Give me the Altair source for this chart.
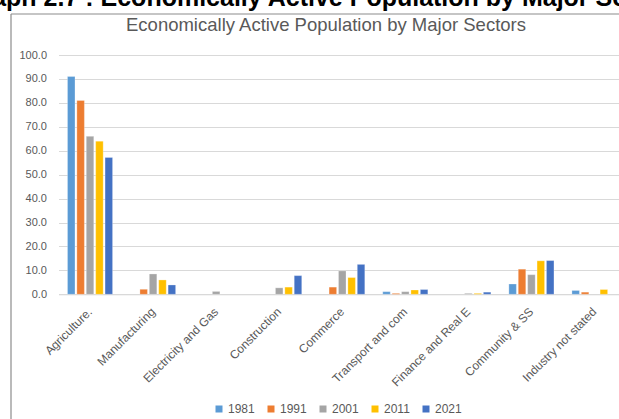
import altair as alt
import pandas as pd

# ---- data ----
sectors = ["Agriculture.", "Manufacturing", "Electricity and Gas", "Construction",
           "Commerce", "Transport and com", "Finance and Real E", "Community & SS",
           "Industry not stated"]
years = ["1981", "1991", "2001", "2011", "2021"]
v1981 = [91.0, None, None, None, None, 1.1, None, 4.3, 1.6]
v1991 = [81.0, 2.1, None, None, 3.0, 0.4, None, 10.5, 0.9]
v2001 = [66.0, 8.5, 1.2, 2.7, 9.8, 1.1, 0.4, 8.2, None]
v2011 = [64.0, 6.0, None, 3.0, 7.0, 1.8, 0.4, 14.0, 2.0]
v2021 = [57.2, 3.9, None, 7.8, 12.5, 2.0, 0.9, 14.1, None]
colors = ["#5B9BD5", "#ED7D31", "#A5A5A5", "#FFC000", "#4472C4"]
chart_title = "Economically Active Population by Major Sectors"
heading = "Graph 2.7 : Economically Active Population by Major Sectors"
y_ticks = [0, 10, 20, 30, 40, 50, 60, 70, 80, 90, 100]

rows = []
for yr, vals in zip(years, [v1981, v1991, v2001, v2011, v2021]):
    for s, v in zip(sectors, vals):
        if v is not None:
            rows.append({"sector": s, "year": yr, "value": v})
df = pd.DataFrame(rows)

# layout (pixels)
PL, PT = 58.5, 55
W, H = 560.5, 239.3
TXT = "#595959"
FONT = "Liberation Sans"

bars = alt.Chart(df).mark_bar(stroke="white", strokeOpacity=0.35, strokeWidth=0.8).encode(
    x=alt.X("sector:N", sort=sectors, title=None,
            scale=alt.Scale(range=[0, 567.5], paddingInner=0.255, paddingOuter=0.1275),
            axis=alt.Axis(labelAngle=-45, labelAlign="right", labelBaseline="middle",
                          labelPadding=15, ticks=False, domainColor="#d9d9d9",
                          labelColor=TXT, labelFontSize=12, labelFont=FONT,
                          labelOverlap=False, labelFlush=False)),
    xOffset=alt.XOffset("year:N", sort=years,
                        scale=alt.Scale(paddingInner=0.2, paddingOuter=0.1)),
    y=alt.Y("value:Q", title=None, scale=alt.Scale(domain=[0, 100], nice=False),
            axis=alt.Axis(values=y_ticks, format=".1f", domain=False, ticks=False,
                          gridColor="#d9d9d9", labelColor=TXT, labelFontSize=11,
                          labelFont=FONT, labelPadding=12)),
    color=alt.Color("year:N", sort=years, title=None,
                    scale=alt.Scale(domain=years, range=colors),
                    legend=alt.Legend(orient="none", direction="horizontal",
                                      legendX=213 - PL, legendY=403 - PT,
                                      symbolType="square", symbolSize=49,
                                      symbolStrokeWidth=0, labelOffset=3,
                                      columnPadding=10, labelFontSize=12,
                                      labelFont=FONT, labelColor=TXT)),
)

title_layer = alt.Chart(pd.DataFrame({"t": [chart_title]})).mark_text(
    font=FONT, fontSize=18.5, color=TXT, align="center", baseline="middle"
).encode(x=alt.value(326 - PL), y=alt.value(25 - PT), text="t:N")

heading_layer = alt.Chart(pd.DataFrame({"t": [heading]})).mark_text(
    font=FONT, fontSize=25, fontWeight="bold", color="#000000",
    align="left", baseline="alphabetic"
).encode(x=alt.value(-37 - PL), y=alt.value(6 - PT), text="t:N")

frame_top = alt.Chart(pd.DataFrame({"a": [0]})).mark_rule(
    color="#8c8c8c", strokeWidth=1.2
).encode(x=alt.value(11 - PL), x2=alt.value(W + 5), y=alt.value(14 - PT))

frame_left = alt.Chart(pd.DataFrame({"a": [0]})).mark_rule(
    color="#8c8c8c", strokeWidth=1.2
).encode(x=alt.value(11 - PL), y=alt.value(14 - PT), y2=alt.value(H + 200))

chart = alt.layer(bars, title_layer, heading_layer, frame_top, frame_left).properties(
    width=W, height=H,
    autosize=alt.AutoSizeParams(type="none"),
    padding={"left": PL, "top": PT, "right": 0, "bottom": 419 - PT - H},
    background="white",
).configure_view(stroke=None)

chart.save("out.html", embed_options={"renderer": "svg", "actions": False})
